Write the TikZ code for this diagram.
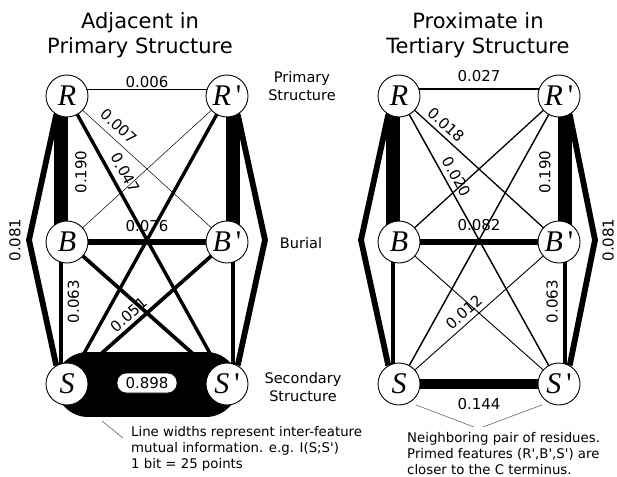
\documentclass[tikz,border=0pt]{standalone}
\usepackage{fontspec}
\setmainfont{DejaVu Sans}[Ligatures=TeXOff]
\newfontfamily\letterfont{Liberation Serif}[Ligatures=TeXOff]
\usetikzlibrary{backgrounds}
\newcommand\primemark{{\upshape\,'}}
\begin{document}
\begin{tikzpicture}[x=1pt,y=-1pt,
  feat/.style={circle,draw,fill=white,line width=0.9pt,minimum size=42pt,inner sep=0pt,
    font=\letterfont\itshape\fontsize{30}{30}\selectfont},
  num/.style={font=\fontsize{15}{15}\selectfont,inner sep=0pt},
  vnum/.style={num,rotate=90},
  rowlbl/.style={font=\fontsize{14.5}{18}\selectfont,align=center,inner sep=0pt},
  ttl/.style={font=\fontsize{21}{25}\selectfont,align=center,inner sep=0pt},
  note/.style={font=\fontsize{13.3}{16}\selectfont,align=left,anchor=north west,inner sep=0pt},
  lw/.style={line width=#1},
  bracket/.style={line width=5.8pt,line join=miter},
  leader/.style={line width=0.5pt,black!70}]
\useasboundingbox (0,0) rectangle (617,476);

% titles and row labels
\node[ttl] (titleL) at (140,35) {Adjacent in\\Primary Structure};
\node[ttl] (titleR) at (478,35) {Proximate in\\Tertiary Structure};
\node[rowlbl] (rowP) at (302,86) {Primary\\Structure};
\node[rowlbl] (rowB) at (301,243) {Burial};
\node[rowlbl] (rowS) at (303,387) {Secondary\\Structure};

% left panel nodes
\node[feat] (R1)  at (67,96)   {R};
\node[feat] (Rp1) at (227,96)  {R\primemark};
\node[feat] (B1)  at (67,242)  {B};
\node[feat] (Bp1) at (227,242) {B\primemark};
\node[feat] (S1)  at (67,384)  {S};
\node[feat] (Sp1) at (227,384) {S\primemark};
% right panel nodes
\node[feat] (R2)  at (399,96)  {R};
\node[feat] (Rp2) at (559,96)  {R\primemark};
\node[feat] (B2)  at (399,242) {B};
\node[feat] (Bp2) at (559,242) {B\primemark};
\node[feat] (S2)  at (399,384) {S};
\node[feat] (Sp2) at (559,384) {S\primemark};

\coordinate (apL1) at (29,240);
\coordinate (apR1) at (265,240);
\coordinate (apL2) at (361,240);
\coordinate (apR2) at (595,240);

\begin{pgfonlayer}{background}
  % ---- left panel
  \draw[lw=0.45pt] ([yshift=7pt]R1.center) -- node[num,above=1.5pt]{0.006} ([yshift=7pt]Rp1.center);
  \draw[lw=13.7pt] ([xshift=-6pt]R1.center) -- node[vnum,anchor=north,inner sep=7.5pt,pos=0.52]{0.190} ([xshift=-6pt]B1.center);
  \draw[lw=13.7pt] ([xshift=6pt]Rp1.center) -- ([xshift=6pt]Bp1.center);
  \draw[lw=4.5pt] ([xshift=-6pt]B1.center) -- node[vnum,anchor=north,inner sep=4.5pt,pos=0.42]{0.063} ([xshift=-6pt]S1.center);
  \draw[lw=4.5pt] ([xshift=6pt]Bp1.center) -- ([xshift=6pt]Sp1.center);
  \draw[lw=5.5pt] (B1) -- node[num,above=8pt]{0.076} (Bp1);
  \draw[lw=0.5pt] (R1.center) -- node[num,sloped,above=6.5pt,pos=0.27]{0.007} (Bp1.center);
  \draw[lw=0.5pt] (Rp1.center) -- (B1.center);
  \draw[lw=3.4pt] (R1.center) -- node[num,sloped,above=6.5pt,pos=0.29]{0.047} (Sp1.center);
  \draw[lw=3.4pt] (Rp1.center) -- (S1.center);
  \draw[lw=3.7pt] (S1.center) -- node[num,sloped,above=3.5pt,pos=0.43]{0.051} (Bp1.center);
  \draw[lw=3.7pt] (B1.center) -- (Sp1.center);
  \draw[bracket] (R1.240) -- (apL1) node[vnum,anchor=south,inner sep=5.5pt]{0.081} -- (S1.120);
  \draw[bracket] (Rp1.300) -- (apR1) -- (Sp1.60);
  \draw[line width=65pt,line cap=round,shorten <=21pt,shorten >=21pt] (S1.center) -- (Sp1.center);
  % ---- right panel
  \draw[lw=1.9pt] ([yshift=7pt]R2.center) -- node[num,above=6pt]{0.027} ([yshift=7pt]Rp2.center);
  \draw[lw=13.7pt] ([xshift=-6pt]R2.center) -- ([xshift=-6pt]B2.center);
  \draw[lw=13.7pt] ([xshift=6pt]Rp2.center) -- node[vnum,anchor=south,inner sep=7.5pt,pos=0.52]{0.190} ([xshift=6pt]Bp2.center);
  \draw[lw=4.5pt] ([xshift=-6pt]B2.center) -- ([xshift=-6pt]S2.center);
  \draw[lw=4.5pt] ([xshift=6pt]Bp2.center) -- node[vnum,anchor=south,inner sep=5pt,pos=0.42]{0.063} ([xshift=6pt]Sp2.center);
  \draw[lw=5.9pt] (B2) -- node[num,above=8pt]{0.082} (Bp2);
  \draw[lw=10.4pt] (S2) -- node[num,below=9pt]{0.144} (Sp2);
  \draw[lw=1.3pt] (R2.center) -- node[num,sloped,above=4pt,pos=0.25]{0.018} (Bp2.center);
  \draw[lw=1.3pt] (Rp2.center) -- (B2.center);
  \draw[lw=1.45pt] (R2.center) -- node[num,sloped,above=5pt,pos=0.30]{0.020} (Sp2.center);
  \draw[lw=1.45pt] (Rp2.center) -- (S2.center);
  \draw[lw=0.9pt] (S2.center) -- node[num,sloped,above=4.5pt,pos=0.45]{0.012} (Bp2.center);
  \draw[lw=0.9pt] (B2.center) -- (Sp2.center);
  \draw[bracket] (R2.240) -- (apL2) -- (S2.120);
  \draw[bracket] (Rp2.300) -- (apR2) node[vnum,anchor=north,inner sep=4.5pt]{0.081} -- (Sp2.60);
\end{pgfonlayer}

% band label
\node[draw,fill=white,rounded corners=9.5pt,line width=0.6pt,inner sep=2pt,minimum width=60pt,minimum height=20pt,
  font=\fontsize{15}{15}\selectfont] (mi) at (147,383) {0.898};

% notes
\node[note] (noteL) at (131,426) {Line widths represent inter-feature\\mutual information. e.g. I(S;S')\\1 bit = 25 points};
\node[note] (noteR) at (407,432) {Neighboring pair of residues.\\Primed features (R',B',S') are\\closer to the C terminus.};
\coordinate (lA) at (102,421);
\coordinate (lB) at (123,438);
\draw[leader] (lA) -- (lB);
\coordinate (vL) at (474,427);
\coordinate (vR) at (483,427);
\draw[leader] (S2.300) [shorten <=6.5pt] -- (vL);
\draw[leader] (Sp2.240) [shorten <=6.5pt] -- (vR);
\end{tikzpicture}
\end{document}
